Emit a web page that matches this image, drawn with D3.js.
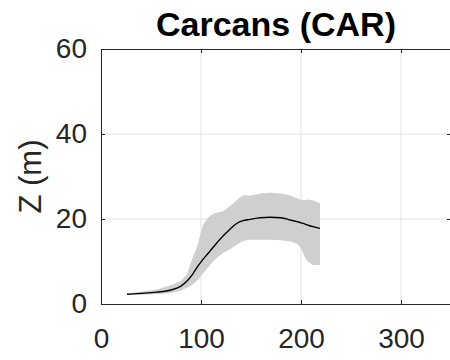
<!DOCTYPE html>
<html>
<head>
<meta charset="utf-8">
<script src="https://cdn.jsdelivr.net/npm/d3@7"></script>
<style>
  body { margin: 0; background: #fff; }
  svg { display: block; font-family: "Liberation Sans", Arial, sans-serif; }
</style>
</head>
<body>
<svg width="450" height="360"></svg>
<script>
// distance along transect and the mean / envelope of Z
const dist  = [26, 40, 56, 70, 80, 86, 91, 96, 102, 107, 112, 116, 122, 129, 136, 142, 149, 159, 169, 180, 190, 196, 200, 203, 206, 212, 219]
const zMean = [2.3, 2.5, 2.8, 3.3, 4.2, 5.4, 6.8, 8.6, 10.5, 11.9, 13.3, 14.4, 16.0, 17.6, 19.0, 19.6, 19.9, 20.3, 20.4, 20.3, 19.7, 19.4, 19.1, 18.9, 18.6, 18.2, 17.8]
const zHigh = [2.5, 2.9, 3.4, 4.5, 5.4, 7.0, 10.5, 13.4, 18.6, 20.3, 21.2, 21.5, 21.8, 23.0, 24.5, 25.6, 25.5, 26.0, 26.2, 26.0, 25.5, 24.9, 24.5, 24.5, 24.6, 24.4, 23.7]
const zLow  = [2.2, 2.2, 2.3, 2.6, 3.2, 3.8, 4.5, 5.5, 7.2, 8.6, 10.0, 10.9, 12.0, 12.9, 14.0, 14.8, 15.1, 15.1, 15.1, 15.0, 14.7, 14.2, 13.2, 11.5, 10.2, 9.2, 9.2]

const xTicks = [0, 100, 200, 300]
const yTicks = [0, 20, 40, 60]

const svg = d3.select('svg')
const axisColor = '#262626'

const x = d3.scaleLinear().domain([0, 350]).range([101, 451])
const y = d3.scaleLinear().domain([0, 60]).range([304, 49])

const points = dist.map((d, i) => ({ d, mean: zMean[i], hi: zHigh[i], lo: zLow[i] }))

// grid
const grid = svg.append('g').attr('class', 'grid')
grid.selectAll('line.gx').data(xTicks.slice(1)).enter().append('line')
    .attr('x1', d => x(d)).attr('x2', d => x(d))
    .attr('y1', y(0)).attr('y2', y(60))
    .attr('stroke', '#e3e3e3').attr('stroke-width', 1)
grid.selectAll('line.gy').data(yTicks.slice(1, -1)).enter().append('line')
    .attr('y1', d => y(d)).attr('y2', d => y(d))
    .attr('x1', x(0)).attr('x2', x(350))
    .attr('stroke', '#e3e3e3').attr('stroke-width', 1)

// envelope
const band = d3.area()
    .x(p => x(p.d))
    .y0(p => y(p.lo))
    .y1(p => y(p.hi))
svg.append('path').datum(points)
    .attr('d', band)
    .attr('fill', '#cfcfcf')
    .attr('stroke', 'none')

// mean profile
const line = d3.line()
    .x(p => x(p.d))
    .y(p => y(p.mean))
    .curve(d3.curveMonotoneX)
svg.append('path').datum(points)
    .attr('d', line)
    .attr('fill', 'none')
    .attr('stroke', '#000')
    .attr('stroke-width', 1.4)

// axes (box style, ticks pointing inward)
function styleAxis(g) {
    g.select('.domain').attr('stroke', axisColor)
    g.selectAll('.tick line').attr('stroke', axisColor)
    g.selectAll('.tick text').attr('fill', axisColor).attr('font-size', 28)
}

svg.append('g')
    .attr('transform', `translate(0,${y(0)})`)
    .call(d3.axisBottom(x).tickValues(xTicks).tickSizeInner(-4).tickSizeOuter(0).tickPadding(24))
    .call(styleAxis)

svg.append('g')
    .attr('transform', `translate(0,${y(60)})`)
    .call(d3.axisTop(x).tickValues(xTicks).tickSizeInner(-4).tickSizeOuter(0).tickFormat(''))
    .call(styleAxis)

svg.append('g')
    .attr('transform', `translate(${x(0)},0)`)
    .call(d3.axisLeft(y).tickValues(yTicks).tickSizeInner(-4).tickSizeOuter(0).tickPadding(14))
    .call(styleAxis)

svg.append('g')
    .attr('transform', `translate(${x(350)},0)`)
    .call(d3.axisRight(y).tickValues(yTicks).tickSizeInner(-4).tickSizeOuter(0).tickFormat(''))
    .call(styleAxis)

// labels
svg.append('text')
    .attr('transform', `translate(41,${(y(0) + y(60)) / 2}) rotate(-90)`)
    .attr('text-anchor', 'middle')
    .attr('fill', axisColor)
    .attr('font-size', 31)
    .text('Z (m)')

svg.append('text')
    .attr('x', (x(0) + x(350)) / 2)
    .attr('y', 36)
    .attr('text-anchor', 'middle')
    .attr('font-weight', 'bold')
    .attr('font-size', 34)
    .attr('fill', '#000')
    .text('Carcans (CAR)')
</script>
</body>
</html>
